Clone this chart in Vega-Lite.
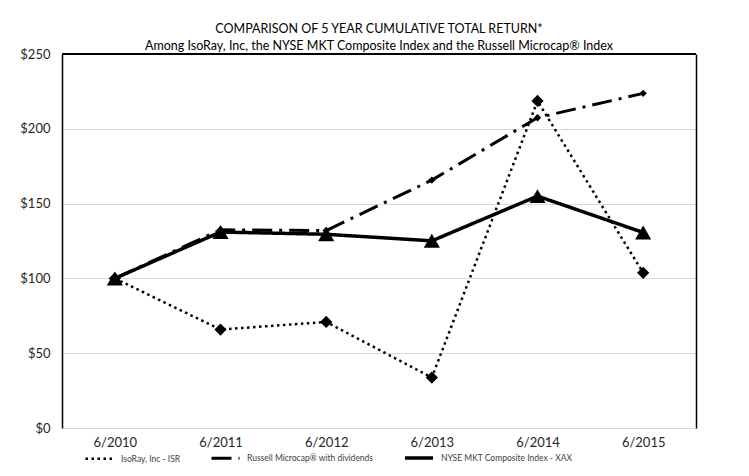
{
  "$schema": "https://vega.github.io/schema/vega-lite/v6.json",
  "width": 634,
  "height": 374,
  "padding": {"left": 19, "top": 22, "right": 5, "bottom": 5},
  "background": "white",
  "title": {
    "text": ["COMPARISON OF 5 YEAR CUMULATIVE TOTAL RETURN*", "Among IsoRay, Inc, the NYSE MKT Composite Index and the Russell Microcap® Index"],
    "font": "Lato",
    "fontSize": 12.5,
    "fontWeight": "normal",
    "color": "black",
    "lineHeight": 17,
    "offset": -4,
    "anchor": "middle"
  },
  "config": {
    "view": {"stroke": null},
    "font": "Lato",
    "legend": {
      "orient": "none",
      "legendX": 22,
      "legendY": 388,
      "direction": "horizontal",
      "labelFont": "Lato",
      "labelFontSize": 8.5,
      "labelColor": "#404040",
      "symbolType": "stroke",
      "symbolSize": 784,
      "symbolStrokeColor": "black",
      "columnPadding": 24,
      "labelOffset": 6
    }
  },
  "data": {
    "values": [
      {"period": "6/2010", "series": "IsoRay, Inc - ISR", "value": 100},
      {"period": "6/2011", "series": "IsoRay, Inc - ISR", "value": 65.8},
      {"period": "6/2012", "series": "IsoRay, Inc - ISR", "value": 70.9},
      {"period": "6/2013", "series": "IsoRay, Inc - ISR", "value": 33.7},
      {"period": "6/2014", "series": "IsoRay, Inc - ISR", "value": 218.6},
      {"period": "6/2015", "series": "IsoRay, Inc - ISR", "value": 103.7},
      {"period": "6/2010", "series": "Russell Microcap® with dividends", "value": 100},
      {"period": "6/2011", "series": "Russell Microcap® with dividends", "value": 132.5},
      {"period": "6/2012", "series": "Russell Microcap® with dividends", "value": 132},
      {"period": "6/2013", "series": "Russell Microcap® with dividends", "value": 165.7},
      {"period": "6/2014", "series": "Russell Microcap® with dividends", "value": 207.4},
      {"period": "6/2015", "series": "Russell Microcap® with dividends", "value": 223.7},
      {"period": "6/2010", "series": "NYSE MKT Composite Index - XAX", "value": 100},
      {"period": "6/2011", "series": "NYSE MKT Composite Index - XAX", "value": 131},
      {"period": "6/2012", "series": "NYSE MKT Composite Index - XAX", "value": 129.5},
      {"period": "6/2013", "series": "NYSE MKT Composite Index - XAX", "value": 125.1},
      {"period": "6/2014", "series": "NYSE MKT Composite Index - XAX", "value": 155},
      {"period": "6/2015", "series": "NYSE MKT Composite Index - XAX", "value": 130.7}
    ]
  },
  "resolve": {"axis": {"y": "independent"}},
  "layer": [
    {
      "layer": [
        {
          "mark": {"type": "line", "color": "black"},
          "encoding": {
            "x": {
              "field": "period", "type": "ordinal",
              "scale": {"type": "point", "padding": 0.5},
              "axis": {"title": null, "domain": false, "ticks": false, "labelAngle": 0, "labelFontSize": 13, "labelColor": "#262626", "labelPadding": 8, "grid": false}
            },
            "y": {
              "field": "value", "type": "quantitative",
              "scale": {"domain": [0, 250], "nice": false},
              "axis": {"title": null, "values": [0, 50, 100, 150, 200, 250], "labelExpr": "'$' + datum.value", "domainColor": "black", "domainWidth": 1.5, "ticks": false, "labelPadding": 12, "labelFontSize": 13, "labelColor": "#262626", "gridColor": "#d9d9d9", "gridWidth": 1}
            },
            "strokeDash": {
              "field": "series", "type": "nominal",
              "scale": {"domain": ["IsoRay, Inc - ISR", "Russell Microcap® with dividends", "NYSE MKT Composite Index - XAX"], "range": [[2.5, 3.5], [20, 7, 3, 7], [1, 0]]},
              "legend": {"title": null}
            },
            "strokeWidth": {
              "field": "series", "type": "nominal",
              "scale": {"domain": ["IsoRay, Inc - ISR", "Russell Microcap® with dividends", "NYSE MKT Composite Index - XAX"], "range": [2.5, 3.5, 3.5]},
              "legend": {"title": null}
            }
          }
        },
        {
          "transform": [{"filter": "datum.series === 'IsoRay, Inc - ISR'"}],
          "mark": {"type": "point", "filled": true, "color": "black", "opacity": 1, "shape": "diamond", "size": 150},
          "encoding": {
            "x": {"field": "period", "type": "ordinal"},
            "y": {"field": "value", "type": "quantitative"}
          }
        },
        {
          "transform": [{"filter": "datum.series === 'Russell Microcap® with dividends'"}],
          "mark": {"type": "point", "filled": true, "color": "black", "opacity": 1, "shape": "diamond", "size": 55},
          "encoding": {
            "x": {"field": "period", "type": "ordinal"},
            "y": {"field": "value", "type": "quantitative"}
          }
        },
        {
          "transform": [{"filter": "datum.series === 'NYSE MKT Composite Index - XAX'"}],
          "mark": {"type": "point", "filled": true, "color": "black", "opacity": 1, "shape": "triangle-up", "size": 260},
          "encoding": {
            "x": {"field": "period", "type": "ordinal"},
            "y": {"field": "value", "type": "quantitative"}
          }
        }
      ]
    },
    {
      "mark": {"type": "rule", "color": "black", "strokeWidth": 1.5},
      "encoding": {
        "y": {
          "datum": 250, "type": "quantitative",
          "axis": {"orient": "right", "title": null, "labels": false, "ticks": false, "grid": false, "domainColor": "black", "domainWidth": 1.5}
        }
      }
    }
  ]
}
